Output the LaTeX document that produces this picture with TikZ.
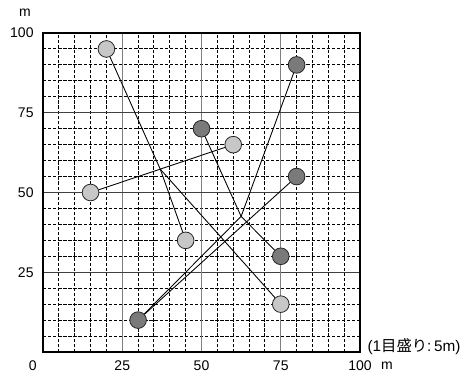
\documentclass[tikz,border=0pt]{standalone}
\usepackage{fontspec}
\setmainfont{Liberation Sans}
\newfontfamily\cjkfont{Noto Sans CJK JP}
\begin{document}
\begin{tikzpicture}[x=0.75pt,y=0.75pt,
  lbl/.style={font=\fontsize{10.5}{12}\selectfont, inner sep=0},
  ptlight/.style={circle, draw=black!85, line width=0.6pt, fill=black!22, minimum size=12.5pt, inner sep=0},
  ptdark/.style={circle, draw=black!85, line width=0.6pt, fill=black!52, minimum size=12.5pt, inner sep=0},
  griddash/.style={line width=1.3pt, dash pattern=on 2.5pt off 1.3pt},
  gridmajorv/.style={line width=0.8pt, black!50},
  gridmajorh/.style={line width=0.8pt, black!75},
  link/.style={line width=0.65pt, black}]
\useasboundingbox (0,0) rectangle (466,376);
% grid snapped to pixel centres (1 unit = 1 px, y up)
\foreach \v in {5,10,15,20,30,35,40,45,55,60,65,70,80,85,90,95} {
  \pgfmathsetmacro\gx{floor(43+3.17*\v)+0.5}
  \pgfmathsetmacro\gy{376-(floor(352-3.19*\v)+0.5)}
  \draw[griddash] (\gx,24) -- (\gx,343);
  \draw[griddash] (43,\gy) -- (360,\gy);
}
\foreach \v in {25,50,75} {
  \pgfmathsetmacro\gx{floor(43+3.17*\v)+0.5}
  \pgfmathsetmacro\gy{376-(floor(352-3.19*\v)+0.5)}
  \draw[gridmajorv] (\gx,24) -- (\gx,343);
  \draw[gridmajorh] (43,\gy) -- (360,\gy);
}
\draw[line width=1.2pt] (43,24) rectangle (360,343);
\begin{scope}[xshift=32.25pt, yshift=18pt, x=2.3775pt, y=2.3925pt]
  % points
  \node[ptlight] (a1) at (20,95) {};
  \node[ptlight] (a2) at (45,35) {};
  \node[ptlight] (b1) at (15,50) {};
  \node[ptlight] (b2) at (60,65) {};
  \node[ptlight] (c1) at (75,15) {};
  \node[ptdark] (d1) at (50,70) {};
  \node[ptdark] (d2) at (75,30) {};
  \node[ptdark] (e1) at (80,90) {};
  \node[ptdark] (e2) at (30,10) {};
  \node[ptdark] (f1) at (80,55) {};
  \coordinate (Q) at (37,57.3);
  \coordinate (P) at (62.5,42.5);
  % links
  \draw[link] (a1) -- (Q) -- (a2);
  \draw[link] (Q) -- (c1);
  \draw[link] (b1) -- (b2);
  \draw[link] (d1) -- (P) -- (d2);
  \draw[link] (e1) -- (P) -- (e2);
  \draw[link] (f1) -- (e2);
  % axis labels
  \node[lbl] (ym) at (-5.7,106.3) {m};
  \node[lbl, anchor=east] (y100) at (-2.9,100) {100};
  \node[lbl, anchor=east] (y75) at (-2.9,75) {75};
  \node[lbl, anchor=east] (y50) at (-2.9,50) {50};
  \node[lbl, anchor=east] (y25) at (-2.9,25) {25};
  \node[lbl] (x0) at (-3.2,-4.4) {0};
  \node[lbl] (x25) at (25,-4.4) {25};
  \node[lbl] (x50) at (50,-4.4) {50};
  \node[lbl] (x75) at (75,-4.4) {75};
  \node[lbl] (x100) at (100,-4.4) {100};
  \node[lbl] (xm) at (108.5,-4.4) {m};
  \node[lbl, anchor=west, font=\fontsize{11.5}{13}\selectfont] (note) at (102.3,1.7) {(1{\cjkfont 目盛り}:\,5m)};
\end{scope}
\end{tikzpicture}
\end{document}
